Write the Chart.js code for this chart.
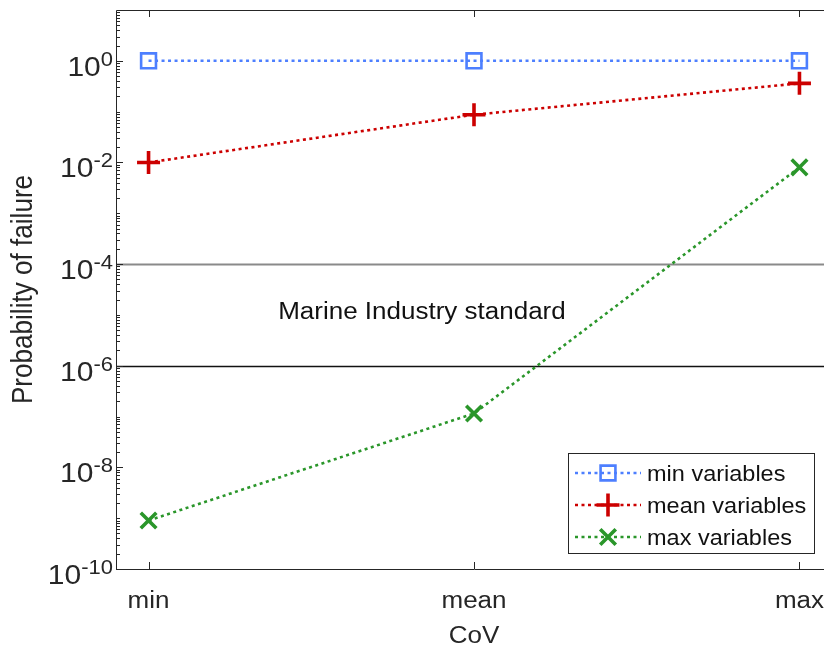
<!DOCTYPE html>
<html>
<head>
<meta charset="utf-8">
<script src="https://cdn.jsdelivr.net/npm/chart.js@4/dist/chart.umd.min.js"></script>
<style>
  html, body { margin: 0; padding: 0; background: #fff; overflow: hidden; }
  #wrap { width: 840px; height: 648px; }
</style>
</head>
<body>
<div id="wrap"><canvas id="c" width="840" height="648"></canvas></div>
<script>
// Coefficient-of-variation cases along the x axis
const categories = ['min', 'mean', 'max'];

// Probability of failure for each set of input variables
const minVariables  = [1, 1, 1];
const meanVariables = [0.01, 0.087, 0.36];
const maxVariables  = [9e-10, 1.15e-7, 8e-3];

const seriesNames = ['min variables', 'mean variables', 'max variables'];

// Labelled decades on the y axis (powers of ten)
const yTickExponents = [0, -2, -4, -6, -8, -10];

// Band of acceptable failure probability
const standardLimits = [1e-4, 1e-6];
const standardLabel = 'Marine Industry standard';

const AXIS_COLOR = '#262626';
const FONT = '"Liberation Sans", Arial, Helvetica, sans-serif';
const SY = 0.9; // vertical squeeze of the lettering

function toPoints(vals) { return vals.map((v, i) => ({ x: i, y: v })); }

function squeezedText(ctx, text, x, y, font, align, color) {
  ctx.save();
  ctx.font = font;
  ctx.fillStyle = color;
  ctx.textAlign = align;
  ctx.textBaseline = 'alphabetic';
  ctx.translate(x, y);
  ctx.scale(1, SY);
  ctx.fillText(text, 0, 0);
  ctx.restore();
}

const series = [
  { data: minVariables,  color: '#4d7fff', style: 'rect',     radius: 10.5, pbw: 2.6 },
  { data: meanVariables, color: '#cc0000', style: 'cross',    radius: 11.5, pbw: 3.6 },
  { data: maxVariables,  color: '#2a962a', style: 'crossRot', radius: 11,   pbw: 3.6 }
];

const datasets = series.map((s, i) => ({
  label: seriesNames[i],
  data: toPoints(s.data),
  borderColor: s.color,
  backgroundColor: 'rgba(0,0,0,0)',
  borderWidth: 2.6,
  borderDash: [3, 3.5],
  borderCapStyle: 'butt',
  pointStyle: s.style,
  pointRadius: s.radius,
  pointBorderWidth: s.pbw,
  pointBorderColor: s.color,
  pointBackgroundColor: 'rgba(0,0,0,0)',
  tension: 0,
  clip: false
}));

// Threshold lines and their caption, drawn under the data
const thresholdPlugin = {
  id: 'thresholds',
  beforeDatasetsDraw(chart) {
    const { ctx, chartArea: a, scales: { x, y } } = chart;
    const colors = ['#8a8a8a', '#111111'];
    const widths = [2, 1.5];
    standardLimits.forEach((v, i) => {
      const py = Math.round(y.getPixelForValue(v)) + 0.5;
      ctx.save();
      ctx.strokeStyle = colors[i];
      ctx.lineWidth = widths[i];
      ctx.beginPath();
      ctx.moveTo(a.left, py);
      ctx.lineTo(a.right, py);
      ctx.stroke();
      ctx.restore();
    });
    const mid = Math.sqrt(standardLimits[0] * standardLimits[1]);
    squeezedText(ctx, standardLabel, x.getPixelForValue(0.84), y.getPixelForValue(mid) + 4,
      '26px ' + FONT, 'center', '#111');
  }
};

// Axes box, inward ticks, tick labels and titles
const axesPlugin = {
  id: 'matlabAxes',
  afterDatasetsDraw(chart) {
    const { ctx, chartArea: a, scales: { x, y } } = chart;
    ctx.save();
    ctx.strokeStyle = AXIS_COLOR;
    ctx.lineWidth = 1;
    ctx.beginPath();
    ctx.rect(Math.round(a.left) + 0.5, Math.round(a.top) + 0.5,
             Math.round(a.right - a.left), Math.round(a.bottom - a.top));
    ctx.stroke();

    // x ticks
    ctx.beginPath();
    categories.forEach((c, i) => {
      const px = Math.round(x.getPixelForValue(i)) + 0.5;
      ctx.moveTo(px, a.bottom); ctx.lineTo(px, a.bottom - 7);
      ctx.moveTo(px, a.top);    ctx.lineTo(px, a.top + 7);
    });
    // y ticks: major at labelled decades, minor elsewhere
    for (let e = -10; e <= 0; e++) {
      for (let k = 1; k <= 9; k++) {
        const v = k * Math.pow(10, e);
        if (v > 10 || v < 1e-10) continue;
        const major = (k === 1 && yTickExponents.includes(e));
        const len = major ? 7 : 4;
        const py = Math.round(y.getPixelForValue(v)) + 0.5;
        ctx.moveTo(a.left, py); ctx.lineTo(a.left + len, py);
        ctx.moveTo(a.right, py); ctx.lineTo(a.right - len, py);
      }
    }
    ctx.stroke();
    ctx.restore();

    // x tick labels
    categories.forEach((c, i) => {
      squeezedText(ctx, c, x.getPixelForValue(i), a.bottom + 39, '26px ' + FONT, 'center', AXIS_COLOR);
    });

    // y tick labels as 10 with a raised exponent
    yTickExponents.forEach(e => {
      const py = y.getPixelForValue(Math.pow(10, e));
      const exp = String(e);
      ctx.save();
      ctx.font = '22px ' + FONT;
      const we = ctx.measureText(exp).width;
      ctx.restore();
      const right = a.left - 3;
      squeezedText(ctx, exp, right, py + 5, '22px ' + FONT, 'right', AXIS_COLOR);
      squeezedText(ctx, '10', right - we, py + 15, '30px ' + FONT, 'right', AXIS_COLOR);
    });

    // axis titles
    squeezedText(ctx, 'CoV', x.getPixelForValue(1), 643, '26px ' + FONT, 'center', AXIS_COLOR);
    ctx.save();
    ctx.translate(32, (a.top + a.bottom) / 2);
    ctx.rotate(-Math.PI / 2);
    ctx.scale(SY, 1);
    ctx.font = '29px ' + FONT;
    ctx.fillStyle = AXIS_COLOR;
    ctx.textAlign = 'center';
    ctx.fillText('Probability of failure', 0, 0);
    ctx.restore();

    // legend box
    const box = { l: 568.5, t: 453.5, r: 814.5, b: 553.5 };
    ctx.save();
    ctx.fillStyle = '#fff';
    ctx.fillRect(box.l, box.t, box.r - box.l, box.b - box.t);
    ctx.strokeStyle = AXIS_COLOR;
    ctx.lineWidth = 1;
    ctx.strokeRect(box.l, box.t, box.r - box.l, box.b - box.t);
    ctx.restore();
    const rows = [473, 505, 537];
    series.forEach((s, i) => {
      const ry = rows[i];
      ctx.save();
      ctx.strokeStyle = s.color;
      ctx.lineWidth = 2.6;
      ctx.setLineDash([3, 3.5]);
      ctx.beginPath();
      ctx.moveTo(575, ry); ctx.lineTo(641, ry);
      ctx.stroke();
      ctx.setLineDash([]);
      ctx.lineWidth = s.pbw;
      ctx.fillStyle = 'rgba(0,0,0,0)';
      Chart.helpers.drawPoint(ctx, { pointStyle: s.style, radius: s.radius, rotation: 0, borderWidth: s.pbw }, 608, ry);
      ctx.restore();
      squeezedText(ctx, seriesNames[i], 647, ry + 8, '23.5px ' + FONT, 'left', '#111');
    });
  }
};

new Chart(document.getElementById('c'), {
  type: 'line',
  data: { datasets },
  options: {
    responsive: false,
    devicePixelRatio: 1,
    animation: false,
    layout: { autoPadding: false, padding: { left: 116, top: 10, right: 8, bottom: 79 } },
    plugins: { legend: { display: false }, tooltip: { enabled: false } },
    scales: {
      x: { type: 'linear', min: -0.1, max: 2.1, display: false },
      y: { type: 'logarithmic', min: 1e-10, max: 10, display: false }
    }
  },
  plugins: [thresholdPlugin, axesPlugin]
});
</script>
</body>
</html>
